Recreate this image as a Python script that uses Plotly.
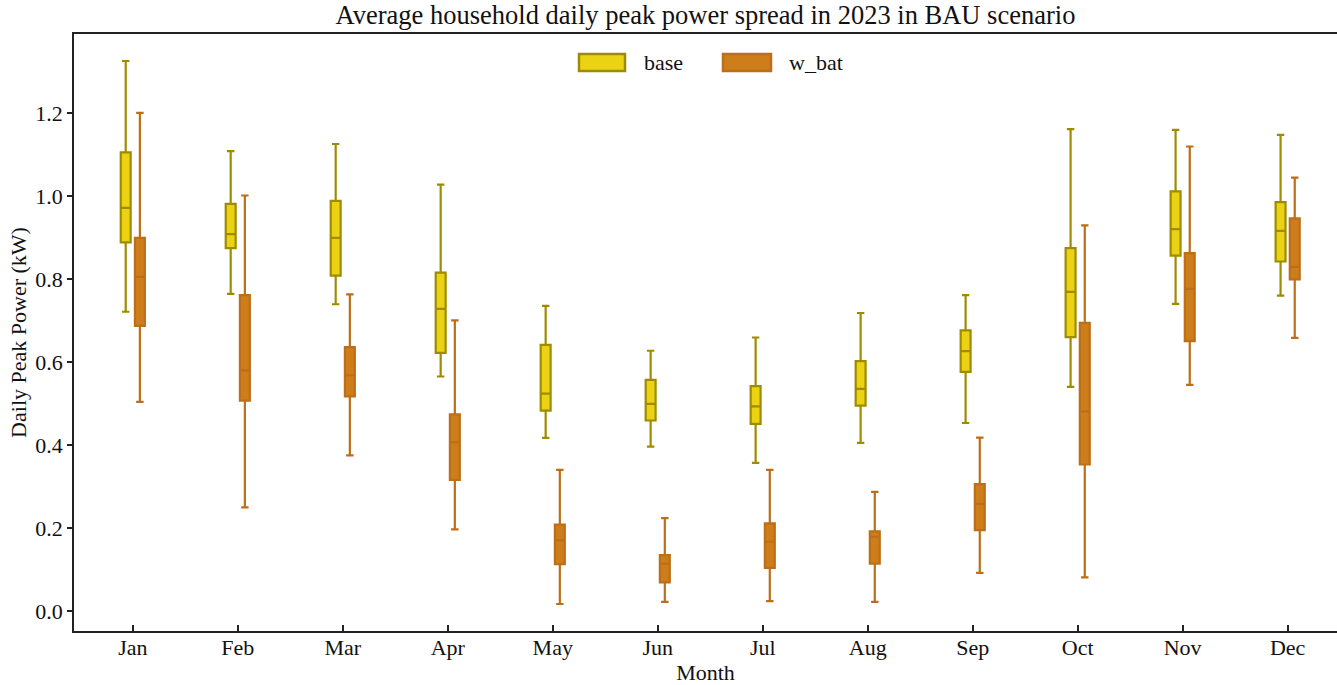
import plotly.graph_objects as go

months = ["Jan", "Feb", "Mar", "Apr", "May", "Jun", "Jul", "Aug", "Sep", "Oct", "Nov", "Dec"]

# base scenario statistics
base_lower = [0.721, 0.764, 0.739, 0.565, 0.417, 0.396, 0.357, 0.405, 0.453, 0.540, 0.740, 0.760]
base_q1 = [0.888, 0.874, 0.808, 0.622, 0.483, 0.459, 0.451, 0.495, 0.576, 0.660, 0.856, 0.842]
base_median = [0.971, 0.908, 0.899, 0.728, 0.524, 0.499, 0.493, 0.535, 0.626, 0.769, 0.920, 0.916]
base_q3 = [1.105, 0.981, 0.988, 0.815, 0.641, 0.557, 0.542, 0.602, 0.676, 0.874, 1.011, 0.985]
base_upper = [1.325, 1.108, 1.125, 1.027, 0.735, 0.627, 0.659, 0.718, 0.761, 1.161, 1.159, 1.147]

# with-battery scenario statistics
wbat_lower = [0.504, 0.250, 0.375, 0.197, 0.017, 0.022, 0.024, 0.022, 0.092, 0.081, 0.545, 0.658]
wbat_q1 = [0.687, 0.507, 0.517, 0.316, 0.113, 0.069, 0.104, 0.114, 0.195, 0.353, 0.650, 0.799]
wbat_median = [0.805, 0.580, 0.568, 0.407, 0.171, 0.114, 0.167, 0.179, 0.258, 0.481, 0.776, 0.829]
wbat_q3 = [0.899, 0.761, 0.636, 0.474, 0.208, 0.135, 0.211, 0.192, 0.306, 0.694, 0.862, 0.946]
wbat_upper = [1.200, 1.001, 0.763, 0.700, 0.340, 0.224, 0.340, 0.287, 0.418, 0.929, 1.119, 1.044]

y_ticks = [0.0, 0.2, 0.4, 0.6, 0.8, 1.0, 1.2]

FONT = "Liberation Serif"
BASE_FILL, BASE_LINE = "#EBD314", "#9E8C00"
WBAT_FILL, WBAT_LINE = "#CD7D19", "#BC6F18"

fig = go.Figure()
fig.add_trace(go.Box(
    name="base", x=months,
    q1=base_q1, median=base_median, q3=base_q3,
    lowerfence=base_lower, upperfence=base_upper,
    fillcolor=BASE_FILL, line=dict(color=BASE_LINE, width=2.2),
    whiskerwidth=0.75, boxpoints=False, hoverinfo="y", showlegend=False,
))
fig.add_trace(go.Box(
    name="w_bat", x=months,
    q1=wbat_q1, median=wbat_median, q3=wbat_q3,
    lowerfence=wbat_lower, upperfence=wbat_upper,
    fillcolor=WBAT_FILL, line=dict(color=WBAT_LINE, width=2.2),
    whiskerwidth=0.75, boxpoints=False, hoverinfo="y", showlegend=False,
))

# Legend drawn as patches (paper coordinates) + labels
PW, PH = 1263.0, 597.0
def px(x):
    return (x - 74) / PW
def py(y):
    return (631 - y) / PH

shapes = []
annotations = []
for (name, fill, line, x0, x1, tx) in [
    ("base", BASE_FILL, BASE_LINE, 579, 625, 642),
    ("w_bat", WBAT_FILL, WBAT_LINE, 723, 771, 787),
]:
    shapes.append(dict(type="rect", xref="paper", yref="paper",
                       x0=px(x0), x1=px(x1), y0=py(71), y1=py(54),
                       fillcolor=fill, line=dict(color=line, width=2.5)))
    annotations.append(dict(text=name, xref="paper", yref="paper",
                            x=px(tx), y=py(62), xanchor="left", yanchor="middle",
                            showarrow=False, font=dict(family=FONT, size=22, color="#111")))

fig.update_layout(
    width=1337, height=685,
    margin=dict(l=74, r=0, t=34, b=54),
    paper_bgcolor="white", plot_bgcolor="white",
    boxmode="group", boxgap=0.73, boxgroupgap=0.3,
    font=dict(family=FONT, size=22, color="#111"),
    title=dict(text="Average household daily peak power spread in 2023 in BAU scenario",
               x=0.5, xref="paper", xanchor="center", y=0.978, yanchor="middle",
               font=dict(family=FONT, size=26.5, color="#111")),
    showlegend=False,
    shapes=shapes,
    annotations=annotations,
    xaxis=dict(
        title=dict(text="Month", font=dict(family=FONT, size=22), standoff=8),
        type="category", range=[-0.56, 11.47],
        showline=True, linecolor="#222", linewidth=1.5, mirror=True,
        ticks="inside", ticklen=6, tickcolor="#222", tickwidth=1.5,
        showgrid=False, zeroline=False, ticklabelstandoff=-4,
        tickfont=dict(family=FONT, size=22),
    ),
    yaxis=dict(
        title=dict(text="Daily Peak Power (kW)", font=dict(family=FONT, size=22), standoff=3),
        range=[-0.048, 1.39],
        tickvals=y_ticks, ticktext=[f"{v:.1f}" for v in y_ticks],
        showline=True, linecolor="#222", linewidth=1.5, mirror=False,
        ticks="outside", ticklen=5, tickcolor="#222", tickwidth=1.5,
        showgrid=False, zeroline=False,
        tickfont=dict(family=FONT, size=22),
    ),
)

fig.write_html("out.html")
